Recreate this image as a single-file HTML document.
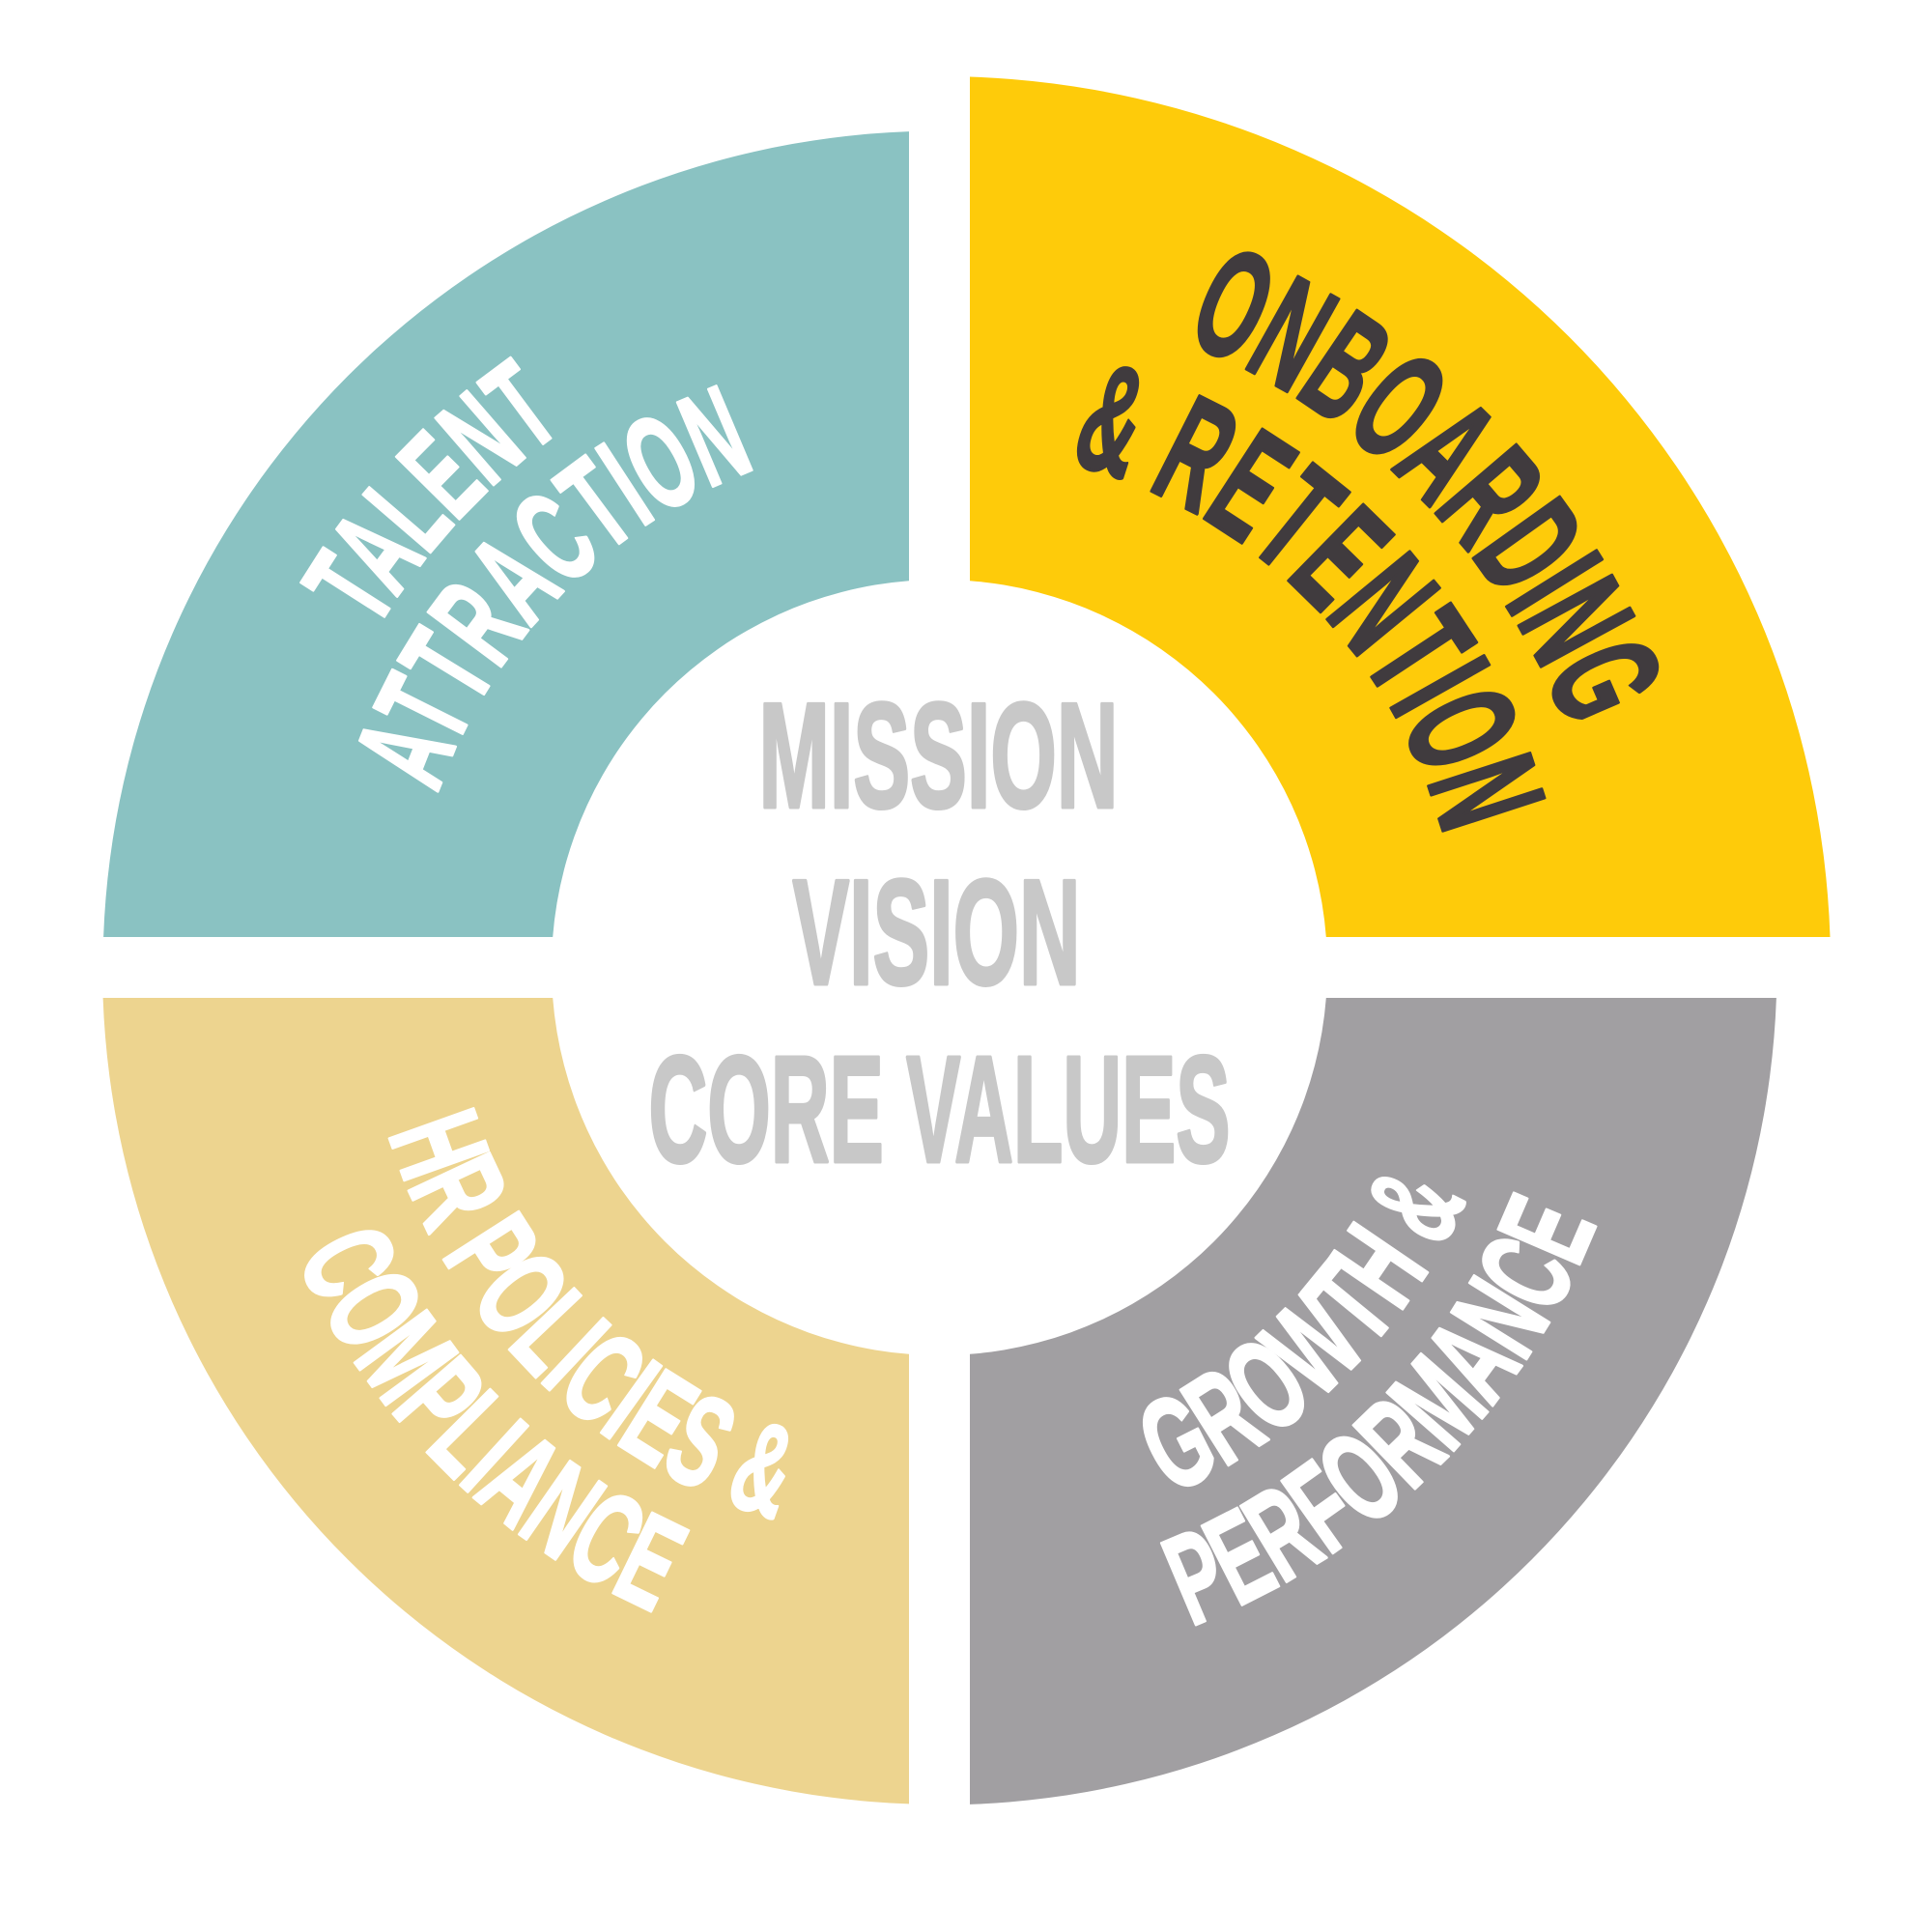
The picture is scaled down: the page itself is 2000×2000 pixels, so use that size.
<!DOCTYPE html>
<html>
<head>
<meta charset="utf-8">
<style>
  html, body { margin: 0; padding: 0; background: #ffffff; }
  svg { display: block; }
  text { font-family: "Liberation Sans Narrow", "Liberation Sans", sans-serif; font-weight: bold; stroke-linejoin: round; }
</style>
</head>
<body>
<svg width="2000" height="2000" viewBox="0 0 2000 2000" xmlns="http://www.w3.org/2000/svg">
  <rect x="0" y="0" width="2000" height="2000" fill="#ffffff"/>
  <defs>
    <!-- top half: clockwise arcs (tops outward) -->
    <path id="pTalent" d="M507.4,1500.3 A682,682 0 0 1 1437.6,502.7"/>
    <path id="pAttr" d="M587.0,1393.8 A550,550 0 0 1 1358.0,609.2"/>
    <path id="pOnb" d="M482.9,506.8 A696,696 0 0 1 1462.1,1496.2"/>
    <path id="pRet" d="M587.2,617.5 A544,544 0 0 1 1357.8,1385.5"/>
    <!-- bottom half: counter-clockwise arcs (tops inward) -->
    <path id="pHr" d="M547.5,578.0 A600,600 0 0 0 1397.5,1425.0"/>
    <path id="pComp" d="M454.5,487.1 A730,730 0 0 0 1490.5,1515.9"/>
    <path id="pGrow" d="M547.7,1425.2 A600,600 0 0 0 1397.3,577.8"/>
    <path id="pPerf" d="M454.5,1516.0 A730,730 0 0 0 1490.5,487.0"/>
  </defs>

  <!-- quadrants -->
  <path d="M941,136.1 L941,601.2 A401.5,401.5 0 0 0 572.2,970 L107.1,970 A866,866 0 0 1 941,136.1 Z" fill="#8AC2C2"/>
  <path d="M1004,79.5 A922.5,922.5 0 0 1 1894.5,970 L1372.8,970 A401.5,401.5 0 0 0 1004,601.2 Z" fill="#FECB0A"/>
  <path d="M1372.8,1033 L1838.9,1033 A867,867 0 0 1 1004,1867.9 L1004,1401.8 A401.5,401.5 0 0 0 1372.8,1033 Z" fill="#A19FA2"/>
  <path d="M106.6,1033 L572.2,1033 A401.5,401.5 0 0 0 941,1401.8 L941,1867.4 A866.5,866.5 0 0 1 106.6,1033 Z" fill="#EDD48F"/>

  <!-- center text -->
  <text x="971.5" y="835.5" font-size="155" fill="#C8C8C8" stroke="#C8C8C8" stroke-width="4" text-anchor="middle" textLength="372" lengthAdjust="spacingAndGlyphs">MISSION</text>
  <text x="969.5" y="1018.5" font-size="155" fill="#C8C8C8" stroke="#C8C8C8" stroke-width="4" text-anchor="middle" textLength="298" lengthAdjust="spacingAndGlyphs">VISION</text>
  <text x="972.5" y="1202.5" font-size="157" fill="#C8C8C8" stroke="#C8C8C8" stroke-width="4" text-anchor="middle" textLength="602" lengthAdjust="spacingAndGlyphs">CORE VALUES</text>

  <!-- teal -->
  <text font-size="133" fill="#FFFFFF" stroke="#FFFFFF" stroke-width="3"><textPath href="#pTalent" startOffset="50%" text-anchor="middle" textLength="290" lengthAdjust="spacingAndGlyphs">TALENT</textPath></text>
  <text font-size="137" fill="#FFFFFF" stroke="#FFFFFF" stroke-width="3"><textPath href="#pAttr" startOffset="50%" text-anchor="middle" textLength="488" lengthAdjust="spacingAndGlyphs">ATTRACTION</textPath></text>

  <!-- yellow -->
  <text font-size="159" fill="#403B3E" stroke="#403B3E" stroke-width="3.5"><textPath href="#pOnb" startOffset="50%" text-anchor="middle" textLength="584" lengthAdjust="spacingAndGlyphs">ONBOARDING</textPath></text>
  <text font-size="160" fill="#403B3E" stroke="#403B3E" stroke-width="3.5"><textPath href="#pRet" startOffset="50%" text-anchor="middle" textLength="576" lengthAdjust="spacingAndGlyphs">&amp; RETENTION</textPath></text>

  <!-- beige -->
  <text font-size="134" fill="#FFFFFF" stroke="#FFFFFF" stroke-width="3"><textPath href="#pHr" startOffset="50%" text-anchor="middle" textLength="590" lengthAdjust="spacingAndGlyphs">HR POLICIES &amp;</textPath></text>
  <text font-size="134" fill="#FFFFFF" stroke="#FFFFFF" stroke-width="3"><textPath href="#pComp" startOffset="50%" text-anchor="middle" textLength="534" lengthAdjust="spacingAndGlyphs">COMPLIANCE</textPath></text>

  <!-- gray -->
  <text font-size="134" fill="#FFFFFF" stroke="#FFFFFF" stroke-width="3"><textPath href="#pGrow" startOffset="50%" text-anchor="middle" textLength="443" lengthAdjust="spacingAndGlyphs">GROWTH &amp;</textPath></text>
  <text font-size="133" fill="#FFFFFF" stroke="#FFFFFF" stroke-width="3"><textPath href="#pPerf" startOffset="50%" text-anchor="middle" textLength="610" lengthAdjust="spacingAndGlyphs">PERFORMANCE</textPath></text>
</svg>
</body>
</html>
